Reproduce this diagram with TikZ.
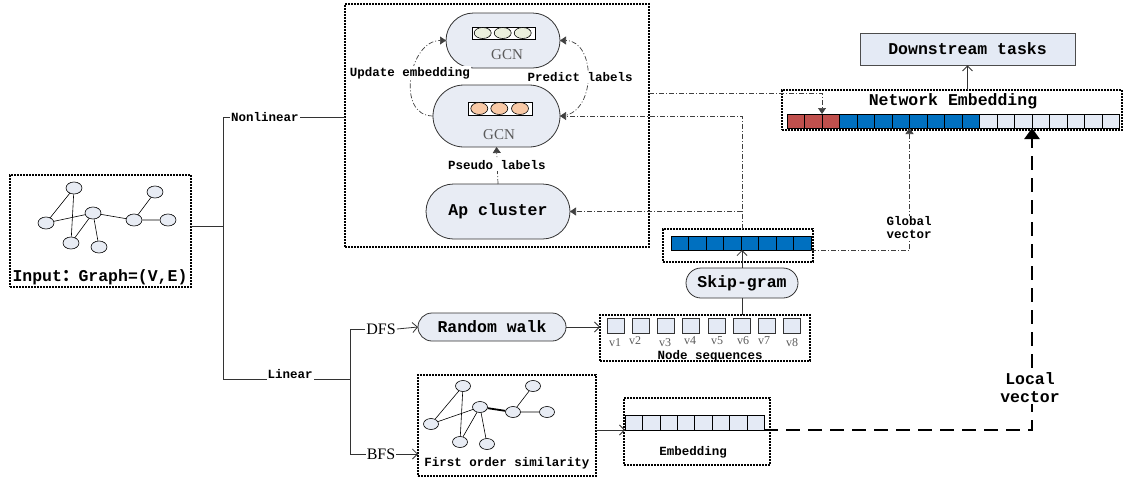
\documentclass[tikz,border=0pt]{standalone}
\usepackage{fontspec}
\setmainfont{Liberation Serif}
\newfontfamily\mono{Liberation Mono}
\newfontfamily\cjk{Noto Sans CJK SC}
\usetikzlibrary{arrows.meta,shapes.geometric,shapes.misc}
\definecolor{nodefill}{HTML}{E8ECF4}
\definecolor{celllight}{HTML}{E4EAF5}
\definecolor{cellred}{HTML}{C0504D}
\definecolor{cellblue}{HTML}{0070C0}
\definecolor{circg}{HTML}{EBF0DE}
\definecolor{circo}{HTML}{F8C9A6}
\definecolor{txtgrey}{HTML}{5A5A5A}
\begin{document}
\begin{tikzpicture}[x=1pt,y=-1pt,
  dbox/.style={draw, line width=1.1pt, dash pattern=on 1.6pt off 1.4pt, inner sep=0pt, outer sep=0pt},
  pill/.style={rounded rectangle, draw=black!80, line width=0.8pt, fill=nodefill, inner sep=0pt, outer sep=0pt},
  gnode/.style={ellipse, draw, line width=0.6pt, fill=nodefill, minimum width=16pt, minimum height=12pt, inner sep=0pt},
  fnode/.style={ellipse, draw, line width=0.6pt, fill=nodefill, minimum width=15pt, minimum height=11pt, inner sep=0pt},
  cell/.style={draw, line width=0.6pt, minimum width=17.5pt, minimum height=14pt, inner sep=0pt, outer sep=0pt},
  sq/.style={draw=black!80, line width=0.6pt, fill=celllight, minimum width=17pt, minimum height=15pt, inner sep=0pt, outer sep=0pt},
  dashdot/.style={draw=black!75, line width=0.7pt, dash pattern=on 5pt off 2pt on 1pt off 2pt},
  tri/.style={-{Triangle[length=6pt,width=8pt]}},
  oarrow/.style={-{Straight Barb[length=5pt,width=10pt]}},
  bigtxt/.style={font=\mono\bfseries\fontsize{16.5}{18}\selectfont},
  smtxt/.style={font=\mono\bfseries\fontsize{12.5}{13}\selectfont},
  gcntxt/.style={font=\fontsize{15}{16}\selectfont, text=txtgrey},
  vtxt/.style={font=\fontsize{12}{12}\selectfont, text=txtgrey, inner sep=0pt},
  serif/.style={font=\fontsize{16}{17}\selectfont, inner sep=1pt},
  wlab/.style={fill=white, inner sep=1pt},
  line/.style={draw=black!80, line width=0.8pt}
]
\useasboundingbox (0,0) rectangle (1126,477);

% ---------- input graph ----------
\node[dbox, minimum width=181pt, minimum height=112pt] (inbox) at (100.5,231) {};
\node[gnode] (g1) at (74,188) {};
\node[gnode] (g2) at (46,223) {};
\node[gnode] (g3) at (93,213) {};
\node[gnode] (g4) at (71,243) {};
\node[gnode] (g5) at (99,247) {};
\node[gnode] (g6) at (134,220) {};
\node[gnode] (g7) at (155,192) {};
\node[gnode] (g8) at (168,220) {};
\draw[line width=0.6pt] (g1)--(g2) (g1)--(g4) (g2)--(g3) (g3)--(g4) (g3)--(g5) (g3)--(g6) (g6)--(g7) (g6)--(g8);
\node[bigtxt, inner sep=0pt] (intxt) at (100,277) {Input{\cjk ：}Graph=(V,E)};

% ---------- tree ----------
\coordinate (t0) at (191,226);
\coordinate (tv) at (223,226);
\coordinate (ttop) at (223,117);
\coordinate (tbot) at (223,379);
\coordinate (lb) at (350,379);
\coordinate (dtop) at (350,329);
\coordinate (dbot) at (350,454);
\draw[line] (t0) -- (tv);
\draw[line] (ttop) -- (tbot);
\node[dbox, minimum width=304pt, minimum height=243pt] (bigbox) at (497,125.5) {};
\draw[line] (ttop) -- (bigbox.west |- ttop);
\node[smtxt, wlab] (nl) at (265,117) {Nonlinear};
\draw[line] (tbot) -- (lb);
\node[smtxt, wlab] (lin) at (290,374) {Linear};
\draw[line] (dtop) -- (dbot);
\node[serif] (dfs) at (381,329) {DFS};
\node[serif] (bfs) at (381,454) {BFS};
\draw[line] (dtop) -- (dfs.west);
\draw[line] (dbot) -- (bfs.west);

% ---------- GCN block ----------
\node[pill, minimum width=114pt, minimum height=55pt] (gcn1) at (503,40.5) {};
\node[draw, line width=0.7pt, fill=white, minimum width=63pt, minimum height=12pt, inner sep=0pt] (r1) at (503.5,33) {};
\foreach \i/\x in {1/482.7,2/502.7,3/522.7}
  \node[ellipse, draw, line width=0.6pt, fill=circg, minimum width=17pt, minimum height=11pt, inner sep=0pt] (c1\i) at (\x,33) {};
\node[gcntxt] (gt1) at (507,55) {GCN};

\node[pill, minimum width=127pt, minimum height=62pt] (gcn2) at (496.5,116) {};
\node[draw, line width=0.7pt, fill=white, minimum width=64pt, minimum height=13pt, inner sep=0pt] (r2) at (500,108.5) {};
\foreach \i/\x in {1/479.3,2/499.3,3/520}
  \node[ellipse, draw, line width=0.6pt, fill=circo, minimum width=17pt, minimum height=12pt, inner sep=0pt] (c2\i) at (\x,108.5) {};
\node[gcntxt] (gt2) at (499,135) {GCN};

\node[pill, minimum width=144pt, minimum height=55pt, bigtxt] (ap) at (498,211.5) {Ap cluster};

\draw[dashdot, tri] (gcn2.west) to[out=180, in=180, looseness=1.25] (gcn1.west);
\draw[dashdot, tri] (gcn2.east) to[out=0, in=0, looseness=1.25] (gcn1.east);
\node[smtxt, wlab] (ue) at (410,73) {Update embedding};
\node[smtxt, wlab] (pl) at (580,77) {Predict labels};
\draw[dashdot, tri] (ap.north) -- (gcn2.south);
\node[smtxt, wlab] (psl) at (497,165) {Pseudo labels};

% ---------- downstream & network embedding ----------
\node[draw=black!70, line width=0.8pt, fill=celllight, minimum width=215pt, minimum height=32pt, bigtxt] (ds) at (967.5,49) {Downstream tasks};
\node[dbox, minimum width=340pt, minimum height=40pt] (nebox) at (952,110) {};
\node[bigtxt] (netxt) at (953,101) {Network Embedding};
\foreach \i in {0,1,2} \node[cell, fill=cellred] (ne\i) at ({795.75+17.5*\i},121) {};
\foreach \i in {3,...,10} \node[cell, fill=cellblue] (ne\i) at ({795.75+17.5*\i},121) {};
\foreach \i in {11,...,18} \node[cell, fill=celllight] (ne\i) at ({795.75+17.5*\i},121) {};
\draw[line, oarrow] (nebox.north -| ds.south) -- (ds.south);

% ---------- skip-gram ----------
\node[dbox, minimum width=150pt, minimum height=33pt] (svbox) at (738,245.5) {};
\foreach \i in {0,...,7} \node[cell, fill=cellblue] (sv\i) at ({679.75+17.5*\i},243) {};
\node[pill, minimum width=112pt, minimum height=30pt, bigtxt] (sg) at (742,283) {Skip-gram};
\draw[line, oarrow] (sg.north) -- (sg.north |- sv3.south east);

% ---------- random walk & node sequences ----------
\node[pill, minimum width=148pt, minimum height=28pt, bigtxt] (rw) at (492,327) {Random walk};
\node[dbox, minimum width=210pt, minimum height=46pt] (ns) at (705,338) {};
\foreach \i in {0,...,7} \node[sq] (nq\i) at ({615.5+25.2*\i},325.5) {};
\node[vtxt] at (615,343) {v1};
\node[vtxt] at (635,340.5) {v2};
\node[vtxt] at (665,343) {v3};
\node[vtxt] at (690,340.5) {v4};
\node[vtxt] at (717,340.5) {v5};
\node[vtxt] at (743,340.5) {v6};
\node[vtxt] at (764,340.5) {v7};
\node[vtxt] at (792,343) {v8};
\node[smtxt, inner sep=0pt] (nstxt) at (710,356) {Node sequences};
\draw[line, oarrow] (dfs.east) -- (rw.west);
\draw[line, oarrow] (rw.east) -- (rw.east -| ns.west);
\draw[line] (sg.south) -- (sg.south |- ns.north);

% ---------- first order ----------
\node[dbox, minimum width=178pt, minimum height=101pt] (fo) at (507,425.5) {};
\node[fnode] (f1) at (463,386) {};
\node[fnode] (f2) at (431,424) {};
\node[fnode] (f3) at (480,407) {};
\node[fnode] (f4) at (460,442) {};
\node[fnode] (f5) at (487,444) {};
\node[fnode] (f6) at (513,412) {};
\node[fnode] (f7) at (533,386) {};
\node[fnode] (f8) at (547,412) {};
\draw[line width=0.6pt] (f1)--(f2) (f1)--(f4) (f2)--(f3) (f3)--(f4) (f3)--(f5) (f6)--(f7) (f6)--(f8);
\draw[line width=1.8pt] (f3)--(f6);
\node[smtxt, inner sep=0pt] (fotxt) at (507,463) {First order similarity};
\draw[line, oarrow] (bfs.east) -- (bfs.east -| fo.west);

% ---------- embedding ----------
\node[dbox, minimum width=146pt, minimum height=67pt] (eb) at (697,431.5) {};
\foreach \i in {0,...,7} \node[cell, fill=celllight, minimum width=17.4pt, minimum height=15pt] (ec\i) at ({633.7+17.4*\i},422.5) {};
\node[smtxt] (ebtxt) at (693,452) {Embedding};
\draw[line, oarrow] (fo.east |- ec0.south west) -- (ec0.south west);

% ---------- dash-dot connectors ----------
\coordinate (vx) at (742,229);
\coordinate (r0) at (649,93);
\draw[dashdot, tri] (vx) |- (gcn2.east);
\draw[dashdot, tri] (ap.east -| vx) -- (ap.east);
\draw[dashdot, tri] (r0) -| (ne1.north east);
\draw[dashdot, tri] (sv7.south east) -| (ne7.south west);
\node[smtxt, wlab, align=center] (gv) at (909,228) {Global\\vector};

% ---------- local vector ----------
\draw[line width=2.4pt, dash pattern=on 14pt off 8pt, -{Triangle[length=11pt,width=15pt]}] (ec7.south east) -| (ne14.south west);
\node[bigtxt, wlab, align=center] (lv) at (1030,388) {Local\\vector};
\end{tikzpicture}
\end{document}
